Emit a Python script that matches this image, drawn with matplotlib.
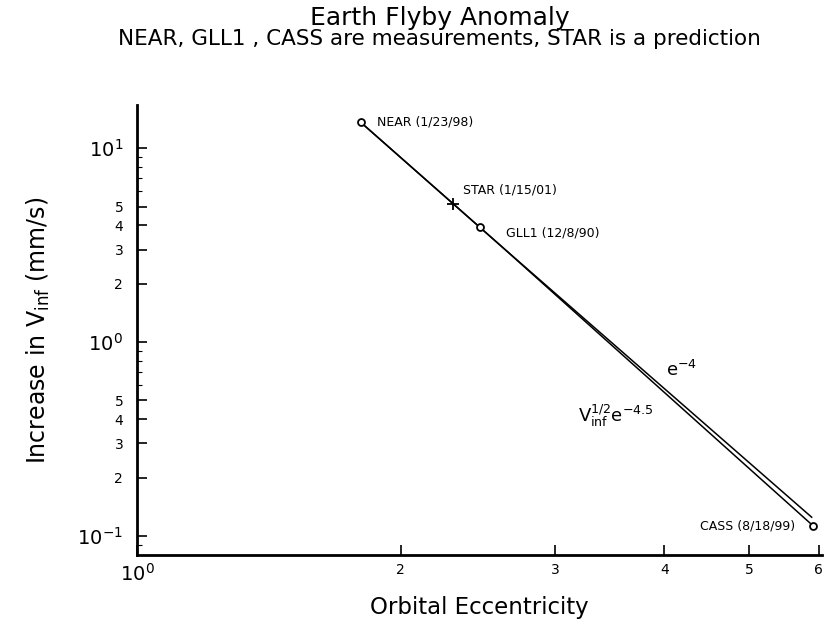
import numpy as np
import matplotlib
matplotlib.use('Agg')
import matplotlib.pyplot as plt
from matplotlib.ticker import FixedLocator, FixedFormatter, NullFormatter

# flyby points (eccentricity, increase in V_inf mm/s)
names = ['NEAR (1/23/98)', 'GLL1 (12/8/90)', 'CASS (8/18/99)']
ecc = [1.80, 2.46, 5.91]
dv = [13.6, 3.92, 0.113]

star_name = 'STAR (1/15/01)'
star_ecc = [2.295]
star_dv = [5.15]

# curves
e4_x = [1.80, 2.62, 5.89]
e4_y = [13.6, 3.05, 0.125]
v45_x = [1.80, 2.62, 5.91]
v45_y = [13.6, 3.05, 0.113]

xticks = [1, 2, 3, 4, 5, 6]
xticklabels = ['$10^0$', '2', '3', '4', '5', '6']
yticks = [0.1, 0.2, 0.3, 0.4, 0.5, 1, 2, 3, 4, 5, 10]
yticklabels = ['$10^{-1}$', '2', '3', '4', '5', '$10^0$', '2', '3', '4', '5', '$10^1$']

plt.rcParams['mathtext.fontset'] = 'dejavusans'

fig = plt.figure(figsize=(8.26, 6.25), dpi=100)
ax = fig.add_axes([0.166, 0.112, 0.829, 0.72])
ax.set_xscale('log')
ax.set_yscale('log')

ax.plot(e4_x, e4_y, color='black', lw=1.1)
ax.plot(v45_x, v45_y, color='black', lw=1.1)
ax.plot(ecc, dv, 'o', ms=5, mfc='white', mec='black', mew=1.3, zorder=3)
ax.plot(star_ecc, star_dv, '+', ms=9, color='black', mew=1.3, zorder=3)

ax.annotate(names[0], (ecc[0], dv[0]), xytext=(12, 0), textcoords='offset points',
            va='center', ha='left', fontsize=9)
ax.annotate(names[1], (ecc[1], dv[1]), xytext=(19, -4), textcoords='offset points',
            va='center', ha='left', fontsize=9)
ax.annotate(names[2], (ecc[2], dv[2]), xytext=(-13, 0), textcoords='offset points',
            va='center', ha='right', fontsize=9)
ax.annotate(star_name, (star_ecc[0], star_dv[0]), xytext=(7, 10), textcoords='offset points',
            va='center', ha='left', fontsize=9)

ax.text(4.18, 0.72, 'e$^{-4}$', fontsize=13, ha='center', va='center')
ax.text(3.19, 0.415, r'V$_{\mathrm{inf}}^{1/2}$e$^{-4.5}$', fontsize=13, ha='left', va='center')

ax.set_xlim(1, 6.05)
ax.set_ylim(0.0798, 16.7)

ax.xaxis.set_major_locator(FixedLocator(xticks))
ax.xaxis.set_major_formatter(FixedFormatter(xticklabels))
ax.xaxis.set_minor_formatter(NullFormatter())
ax.yaxis.set_major_locator(FixedLocator(yticks))
ax.yaxis.set_major_formatter(FixedFormatter(yticklabels))
ax.yaxis.set_minor_formatter(NullFormatter())

ax.tick_params(which='major', direction='in', length=7, width=1.2, labelsize=10)
ax.tick_params(axis='x', which='major', pad=6)
ax.tick_params(axis='y', which='major', pad=10)
ax.tick_params(which='minor', direction='in', length=3.5, width=0.8)
for lab in ax.get_yticklabels():
    if '10' in lab.get_text():
        lab.set_fontsize(14)
for lab in ax.get_xticklabels():
    if '10' in lab.get_text():
        lab.set_fontsize(14)

for s in ['top', 'right']:
    ax.spines[s].set_visible(False)
for s in ['left', 'bottom']:
    ax.spines[s].set_linewidth(2)

ax.set_xlabel('Orbital Eccentricity', fontsize=16.5, labelpad=8)
ax.set_ylabel('Increase in V$_{\\mathrm{inf}}$ (mm/s)', fontsize=17, labelpad=18)

fig.text(0.533, 0.972, 'Earth Flyby Anomaly', ha='center', va='center', fontsize=18)
fig.text(0.532, 0.937, 'NEAR, GLL1 , CASS are measurements, STAR is a prediction',
         ha='center', va='center', fontsize=15.5)

fig.savefig('out.png', dpi=100)
